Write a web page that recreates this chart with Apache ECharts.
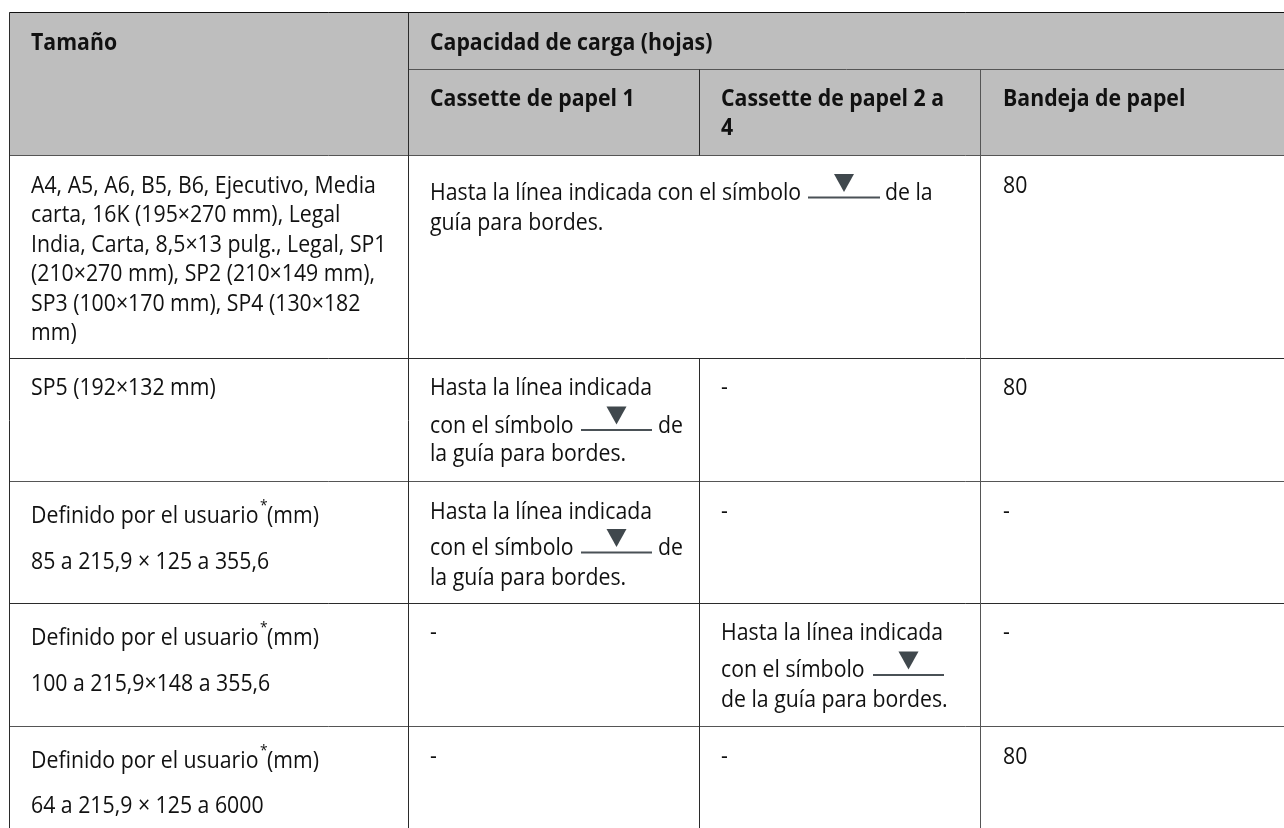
<!DOCTYPE html>
<html><head><meta charset="utf-8">
<style>html,body{margin:0;padding:0;background:#fff}#c{width:1284px;height:828px}</style>
<script src="https://cdn.jsdelivr.net/npm/echarts@6/dist/echarts.min.js"></script>
</head><body><div id="c"></div>
<script>
// ---- table content ----
const headerSize = ["Tamaño"];
const headerCapacity = ["Capacidad de carga (hojas)"];
const headerCassette1 = ["Cassette de papel 1"];
const headerCassette2 = ["Cassette de papel 2 a", "4"];
const headerTray = ["Bandeja de papel"];
const row1Size = ["A4, A5, A6, B5, B6, Ejecutivo, Media","carta, 16K (195×270 mm), Legal","India, Carta, 8,5×13 pulg., Legal, SP1","(210×270 mm), SP2 (210×149 mm),","SP3 (100×170 mm), SP4 (130×182","mm)"];
const row2Size = ["SP5 (192×132 mm)"];
const userDefined = "Definido por el usuario";
const userStar = "*";
const userUnit = "(mm)";
const row3Range = "85 a 215,9 × 125 a 355,6";
const row4Range = "100 a 215,9×148 a 355,6";
const row5Range = "64 a 215,9 × 125 a 6000";
const spanNote = ["Hasta la línea indicada con el símbolo", "de la", "guía para bordes."];
const cellNote = ["Hasta la línea indicada", "con el símbolo", "de", "la guía para bordes."];
const cellNoteAlt = ["Hasta la línea indicada", "con el símbolo", "de la guía para bordes."];
const trayValue = "80";
const none = "-";

// ---- layout (page pixels read on the value axes) ----
const colX = [9, 408, 699, 980, 1284];
const rowY = [12, 155, 358, 481, 603, 726, 828];
const midHeaderY = 69;
const textX = [31, 430, 721, 1003];

const T = [];            // [x, yCentre, text, bold, small]
function t(x, y, s, b) { T.push([x, y+1.5, s, b ? 1 : 0, 0]); }
t(textX[0], 41.5, headerSize[0], 1);
t(textX[1], 41.5, headerCapacity[0], 1);
t(textX[1], 98, headerCassette1[0], 1);
t(textX[2], 98, headerCassette2[0], 1);
t(textX[2], 127, headerCassette2[1], 1);
t(textX[3], 98, headerTray[0], 1);
[185,214,244,273,303,332].forEach((y,i)=>t(textX[0], y, row1Size[i]));
t(textX[1], 192, spanNote[0]); t(885, 192, spanNote[1]); t(textX[1], 222, spanNote[2]);
t(textX[3], 185, trayValue);
t(textX[0], 387, row2Size[0]);
t(textX[1], 387, cellNote[0]); t(textX[1], 425, cellNote[1]); t(658, 425, cellNote[2]); t(textX[1], 453, cellNote[3]);
t(textX[2], 387, none); t(textX[3], 387, trayValue);
function user(y){ t(textX[0], y, userDefined); T.push([260, y-9, userStar, 0, 1]); t(267, y, userUnit); }
user(515); t(textX[0], 561, row3Range);
t(textX[1], 511, cellNote[0]); t(textX[1], 547, cellNote[1]); t(658, 547, cellNote[2]); t(textX[1], 577, cellNote[3]);
t(textX[2], 511, none); t(textX[3], 511, none);
user(637); t(textX[0], 683, row4Range);
t(textX[1], 632, none);
t(textX[2], 632, cellNoteAlt[0]); t(textX[2], 669, cellNoteAlt[1]); t(textX[2], 699, cellNoteAlt[2]);
t(textX[3], 632, none);
user(760); t(textX[0], 805, row5Range);
t(textX[1], 756, none); t(textX[2], 756, none); t(textX[3], 756, trayValue);

// guide-mark symbols: [lineLeft, lineRight, lineY]
const marks = [[808,880,197.5],[581,652,430],[581,652,552.5],[873,944,675]];
// rules: [x1,y1,x2,y2,colour]
const dark='#2b2b2b', mid='#555555';
const rules = [
 [colX[0],rowY[0],1284,rowY[0],'#111111'],
 [colX[1],midHeaderY,1284,midHeaderY,mid],
 [colX[0],rowY[1],1284,rowY[1],mid],
 [colX[0],rowY[2],1284,rowY[2],dark],
 [colX[0],rowY[3],1284,rowY[3],mid],
 [colX[0],rowY[4],1284,rowY[4],dark],
 [colX[0],rowY[5],1284,rowY[5],mid],
 [colX[0],rowY[0],colX[0],828,dark],
 [colX[1],rowY[0],colX[1],828,dark],
 [colX[2],midHeaderY,colX[2],rowY[1],dark],
 [colX[2],rowY[2],colX[2],828,dark],
 [colX[3],midHeaderY,colX[3],828,mid]
];
const FONT='"Open Sans"', SX=0.925, SY=1;
const FS=23;

const chart = echarts.init(document.getElementById('c'));
chart.setOption({
  animation:false,
  grid:{left:0,right:0,top:0,bottom:0},
  xAxis:{type:'value',min:0,max:1284,show:false},
  yAxis:{type:'value',min:0,max:828,inverse:true,show:false},
  series:[
   {type:'custom',coordinateSystem:'cartesian2d',silent:true,z:1,clip:false,
    data:[[colX[0],rowY[0],1284,rowY[1]]],
    renderItem(p,api){const a=api.coord([api.value(0),api.value(1)]),b=api.coord([api.value(2),api.value(3)]);
      return {type:'rect',shape:{x:a[0],y:a[1],width:b[0]-a[0],height:b[1]-a[1]},style:{fill:'#bebebe'}}}},
   {type:'custom',coordinateSystem:'cartesian2d',silent:true,z:2,clip:false,
    data:rules,
    renderItem(p,api){const r=rules[p.dataIndex],a=api.coord([r[0],r[1]]),b=api.coord([r[2],r[3]]);
      return {type:'line',shape:{x1:a[0]+.5,y1:a[1]+.5,x2:b[0]+.5,y2:b[1]+.5},style:{stroke:r[4],lineWidth:1}}}},
   {type:'custom',coordinateSystem:'cartesian2d',silent:true,z:3,clip:false,
    data:marks,
    renderItem(p,api){const m=marks[p.dataIndex],a=api.coord([m[0],m[2]]),b=api.coord([m[1],m[2]]);
      const c=(a[0]+b[0])/2;
      return {type:'group',children:[
        {type:'line',shape:{x1:a[0],y1:a[1],x2:b[0],y2:b[1]},style:{stroke:'#4a5156',lineWidth:2}},
        {type:'polygon',shape:{points:[[c-10,a[1]-23.5],[c+10,a[1]-23.5],[c,a[1]-5.5]]},style:{fill:'#40484d'}}
      ]}}},
   {type:'custom',coordinateSystem:'cartesian2d',silent:true,z:4,clip:false,
    data:T.map(r=>[r[0],r[1]]),
    renderItem(p,api){const r=T[p.dataIndex],a=api.coord([r[0],r[1]]);
      return {type:'text',x:a[0],y:a[1],scaleX:SX,scaleY:SY,style:{text:r[2],fill:'#111111',
        font:(r[3]?'bold ':'')+(r[4]?15:FS)+'px '+FONT,textAlign:'left',textVerticalAlign:'middle'}}}}
  ]
});
</script></body></html>
